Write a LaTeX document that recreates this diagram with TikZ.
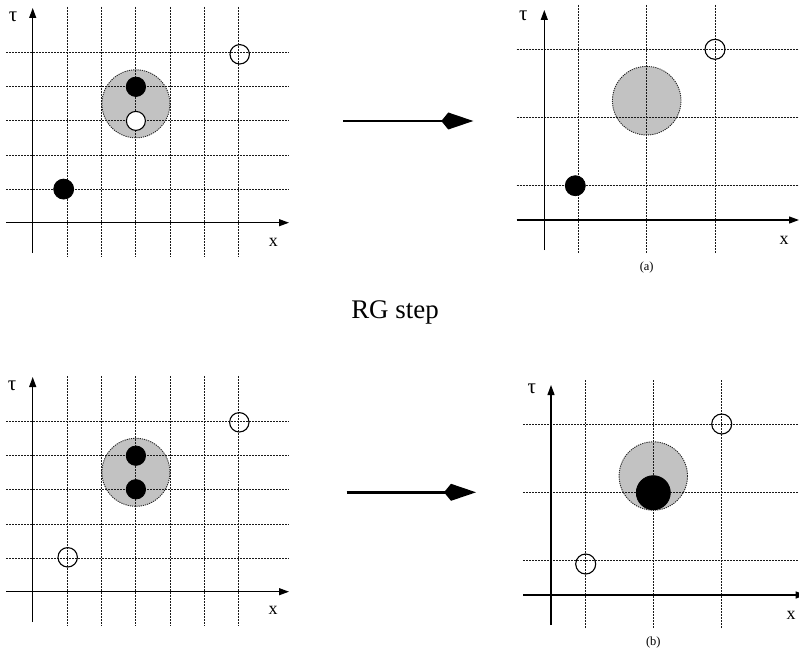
\documentclass[tikz,border=0pt]{standalone}
\usepackage{fontspec}
\setmainfont{Liberation Serif}
\usetikzlibrary{arrows.meta}

% Fine lattice used in the two "before" panels (spacing a)
\newcommand{\drawfinegrid}{%
  \foreach \gx in {67.5,101.7,135.9,170.1,204.3,238.5}
    \draw[gridline] (\gx,7) -- (\gx,257);
  \foreach \gy in {52.7,86.8,120.9,155.0,189.1}
    \draw[gridline] (6,\gy) -- (289,\gy);
  \draw[axis] (6,222.7) -- (289,222.7);
  \draw[axis] (32.7,253) -- (32.7,8);
}
% Coarse lattice used in the two "after" panels (spacing 2a)
\newcommand{\drawcoarsegrid}{%
  \foreach \gx in {578.3,646.7,715.0}
    \draw[gridline] (\gx,5) -- (\gx,254);
  \foreach \gy in {49.3,117.3,185.7}
    \draw[gridline] (516.7,\gy) -- (799,\gy);
  \draw[axis] (516.7,220) -- (799,220);
  \draw[axis] (544.3,250) -- (544.3,10);
}

\begin{document}
\begin{tikzpicture}[x=1bp,y=-1bp,
  gridline/.style={line width=1bp, black!90, dash pattern=on 2bp off 1bp},
  axis/.style={line width=1.2bp, -{Triangle[length=10bp,width=7bp]}},
  blob/.style={fill=black!24, draw=black!85, line width=0.9bp, dash pattern=on 1.2bp off 1bp},
  fulldot/.style={fill=black, draw=black, line width=0.8bp},
  hollowdot/.style={draw=black, line width=1.1bp},
  whitedot/.style={fill=white, draw=black, line width=1.1bp},
  lbl/.style={inner sep=0pt, font=\fontsize{18}{18}\selectfont},
  taulbl/.style={inner sep=0pt, font=\fontsize{21}{21}\selectfont},
  caption/.style={inner sep=0pt, font=\fontsize{12.5}{12.5}\selectfont},
  bigarrow/.style={line width=2.7bp, -{Kite[length=32bp,width=17bp,inset=7bp]}}
]
\useasboundingbox (0,0) rectangle (799,654);

% ---------- top left: fine lattice ----------
\begin{scope}
  \path[blob] (135.9,103.8) circle (34bp);
  \drawfinegrid
  \path[fulldot] (135.9,86.8) circle (9.7bp);
  \path[whitedot] (135.9,120.9) circle (9.5bp);
  \path[fulldot] (63.7,189.1) circle (10bp);
  \path[hollowdot] (239.7,54.3) circle (9.7bp);
  \node[taulbl] (tauTL) at (13,17) {τ};
  \node[lbl] (xTL) at (273.3,242.3) {x};
\end{scope}

% ---------- top right: coarse lattice ----------
\begin{scope}
  \path[blob] (646.7,100.7) circle (34.3bp);
  \drawcoarsegrid
  \path[fulldot] (575.3,185.7) circle (10bp);
  \path[hollowdot] (715,49.3) circle (10bp);
  \node[taulbl] (tauTR) at (523.3,15.5) {τ};
  \node[lbl] (xTR) at (784,240) {x};
  \node[caption] (capA) at (646.7,268) {(a)};
\end{scope}

% ---------- bottom left: fine lattice ----------
\begin{scope}[shift={(0,369)}]
  \path[blob] (135.9,103.3) circle (34bp);
  \drawfinegrid
  \path[fulldot] (135.9,86.7) circle (9.7bp);
  \path[fulldot] (135.9,120.3) circle (9.7bp);
  \path[hollowdot] (67.7,188.3) circle (9.7bp);
  \path[hollowdot] (239.3,53.3) circle (9.7bp);
  \node[taulbl] (tauBL) at (12,17) {τ};
  \node[lbl] (xBL) at (273,241) {x};
\end{scope}

% ---------- bottom right: coarse lattice ----------
\begin{scope}[shift={(6.7,375)}]
  \path[blob] (646.6,101) circle (34.2bp);
  \drawcoarsegrid
  \path[fulldot] (646.6,117.7) circle (17bp);
  \path[hollowdot] (579,189) circle (10bp);
  \path[hollowdot] (715,49) circle (10bp);
  \node[taulbl] (tauBR) at (525,13.5) {τ};
  \node[lbl] (xBR) at (784.3,240) {x};
  \node[caption] (capB) at (646.6,267.3) {(b)};
\end{scope}

% ---------- blocking maps ----------
\coordinate (mapAfrom) at (343.3,121);
\coordinate (mapAto) at (473.3,121);
\draw[bigarrow] (mapAfrom) -- (mapAto);
\coordinate (mapBfrom) at (346.7,492.3);
\coordinate (mapBto) at (476,492.3);
\draw[bigarrow] (mapBfrom) -- (mapBto);

\node[inner sep=0pt, font=\fontsize{27}{27}\selectfont] (rgstep) at (395,312) {RG step};
\end{tikzpicture}
\end{document}
